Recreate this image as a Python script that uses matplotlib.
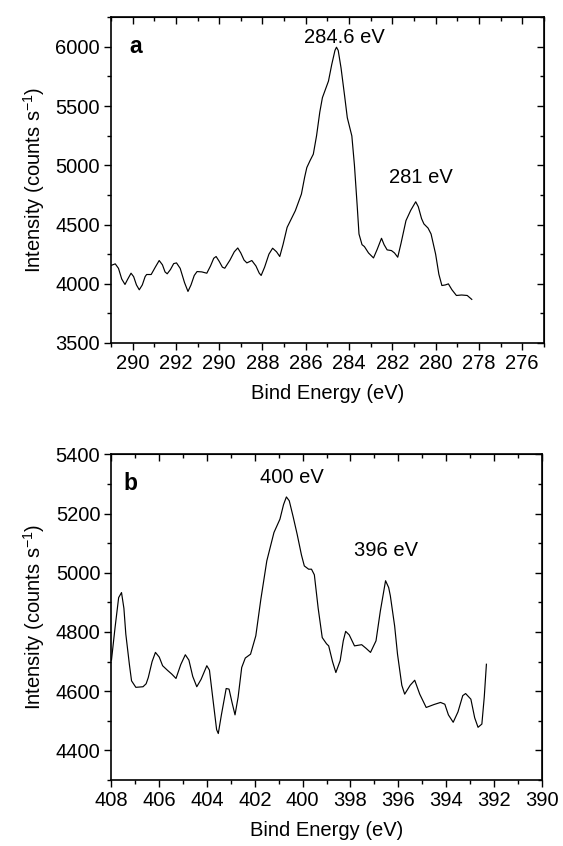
import matplotlib
matplotlib.use("Agg")
import matplotlib.pyplot as plt
from matplotlib.ticker import MultipleLocator, FixedLocator

plt.rcParams['font.family'] = ['Liberation Sans', 'DejaVu Sans']
plt.rcParams['mathtext.fontset'] = 'custom'
plt.rcParams['mathtext.rm'] = 'Liberation Sans'
plt.rcParams['mathtext.it'] = 'Liberation Sans:italic'

# panel a: C 1s
energy_a = [295.0, 294.8, 294.65, 294.5, 294.35, 294.22, 294.07, 293.95, 293.82, 293.69,
            293.55, 293.42, 293.35, 293.14, 292.95, 292.77, 292.62, 292.5, 292.4, 292.25,
            292.1, 291.97, 291.8, 291.6, 291.44, 291.3, 291.15, 291.02, 290.8, 290.57,
            290.4, 290.25, 290.14, 290.0, 289.85, 289.74, 289.5, 289.3, 289.14, 289.0,
            288.85, 288.72, 288.49, 288.3, 288.15, 288.06, 287.9, 287.7, 287.53, 287.35,
            287.2, 287.05, 286.86, 286.48, 286.2, 286.05, 285.95, 285.8, 285.65, 285.5,
            285.35, 285.23, 284.95, 284.8, 284.65, 284.58, 284.5, 284.37, 284.2, 284.08,
            283.87, 283.75, 283.62, 283.54, 283.4, 283.29, 283.1, 282.87, 282.7, 282.5,
            282.38, 282.24, 282.04, 281.9, 281.75, 281.6, 281.37, 281.15, 280.92, 280.8,
            280.65, 280.54, 280.35, 280.21, 280.0, 279.85, 279.71, 279.55, 279.41, 279.25,
            279.04, 278.8, 278.54, 278.33]
counts_a = [4154, 4168, 4130, 4040, 3994, 4040, 4089, 4060, 3990, 3949,
            3990, 4060, 4078, 4078, 4140, 4196, 4160, 4100, 4084, 4120,
            4170, 4176, 4130, 4010, 3935, 3990, 4070, 4103, 4100, 4089,
            4150, 4215, 4230, 4190, 4140, 4131, 4200, 4270, 4302, 4260,
            4200, 4176, 4196, 4150, 4090, 4070, 4140, 4250, 4300, 4270,
            4230, 4330, 4476, 4617, 4757, 4900, 4981, 5040, 5094, 5250,
            5450, 5571, 5711, 5850, 5970, 5997, 5970, 5823, 5580, 5402,
            5248, 5000, 4650, 4420, 4330, 4314, 4260, 4218, 4290, 4384,
            4330, 4286, 4280, 4260, 4224, 4340, 4533, 4620, 4692, 4650,
            4550, 4505, 4470, 4420, 4250, 4080, 3985, 3990, 3999, 3950,
            3901, 3905, 3901, 3868]
ticks_a = [294, 292, 290, 288, 286, 284, 282, 280, 278, 276]
ticklabels_a = ["290", "292", "290", "288", "286", "284", "282", "280", "278", "276"]

# panel b: N 1s
energy_b = [408.0, 407.85, 407.7, 407.58, 407.48, 407.4, 407.25, 407.16, 406.98, 406.68,
            406.55, 406.46, 406.3, 406.16, 406.0, 405.86, 405.65, 405.48, 405.3, 405.1,
            404.91, 404.76, 404.6, 404.43, 404.25, 404.01, 403.9, 403.75, 403.6, 403.53,
            403.4, 403.2, 403.08, 402.95, 402.83, 402.7, 402.55, 402.4, 402.18, 401.96,
            401.75, 401.5, 401.2, 400.95, 400.8, 400.68, 400.56, 400.4, 400.23, 400.05,
            399.93, 399.75, 399.63, 399.51, 399.35, 399.18, 399.0, 398.91, 398.75, 398.61,
            398.43, 398.3, 398.2, 398.05, 397.83, 397.53, 397.35, 397.16, 396.93, 396.75,
            396.53, 396.4, 396.33, 396.15, 396.03, 395.85, 395.73, 395.5, 395.31, 395.1,
            394.83, 394.5, 394.23, 394.05, 393.9, 393.7, 393.5, 393.3, 393.18, 392.96,
            392.8, 392.66, 392.5, 392.4, 392.31]
counts_b = [4705, 4815, 4916, 4933, 4880, 4793, 4690, 4635, 4613, 4615,
            4625, 4646, 4700, 4731, 4715, 4686, 4670, 4658, 4643, 4690,
            4723, 4705, 4650, 4615, 4640, 4686, 4671, 4570, 4470, 4457,
            4520, 4609, 4607, 4560, 4520, 4580, 4680, 4712, 4725, 4787,
            4910, 5040, 5136, 5181, 5230, 5256, 5243, 5190, 5130, 5060,
            5023, 5012, 5012, 4993, 4880, 4781, 4760, 4753, 4700, 4663,
            4703, 4770, 4802, 4790, 4753, 4757, 4745, 4731, 4770, 4870,
            4973, 4950, 4922, 4820, 4725, 4620, 4590, 4620, 4637, 4590,
            4545, 4555, 4562, 4556, 4520, 4495, 4530, 4585, 4592, 4573,
            4510, 4478, 4489, 4580, 4691]

FS = 14.5


def style_axes(ax, ymin, ymax, ymajor, yminor):
    ax.set_ylim(ymin, ymax)
    ax.xaxis.set_minor_locator(MultipleLocator(1))
    ax.yaxis.set_major_locator(MultipleLocator(ymajor))
    ax.yaxis.set_minor_locator(MultipleLocator(yminor))
    ax.tick_params(which='both', direction='out', top=False, right=False,
                   labelsize=FS, width=1.0, pad=3)
    ax.tick_params(which='major', length=5)
    ax.tick_params(which='minor', length=3)
    for s in ax.spines.values():
        s.set_linewidth(1.2)
    # inward ticks on top and right
    tw = ax.secondary_xaxis('top')
    tw.set_xticks(ax.get_xticks())
    tw.xaxis.set_minor_locator(MultipleLocator(1))
    tw.tick_params(which='both', direction='in', labeltop=False, width=1.0)
    tw.tick_params(which='major', length=5)
    tw.tick_params(which='minor', length=3)
    rw = ax.secondary_yaxis('right')
    rw.yaxis.set_major_locator(MultipleLocator(ymajor))
    rw.yaxis.set_minor_locator(MultipleLocator(yminor))
    rw.tick_params(which='both', direction='in', labelright=False, width=1.0)
    rw.tick_params(which='major', length=5)
    rw.tick_params(which='minor', length=3)
    ax.set_xlabel('Bind Energy (eV)', fontsize=FS, labelpad=8)
    ax.set_ylabel(r'Intensity (counts s$^{-1}$)', fontsize=FS, labelpad=6)


fig = plt.figure(figsize=(5.63, 8.46), dpi=100)

ax1 = fig.add_axes([0.197, 0.5946, 0.769, 0.385])
ax1.plot(energy_a, counts_a, color='black', lw=0.85)
ax1.set_xlim(295, 275)
ax1.xaxis.set_major_locator(FixedLocator(ticks_a))
ax1.set_xticklabels(ticklabels_a)
style_axes(ax1, 3500, 6250, 500, 250)
ax1.text(293.85, 6000, 'a', fontsize=FS + 2, fontweight='bold', ha='center', va='center')
ax1.text(284.2, 6080, '284.6 eV', fontsize=FS, ha='center', va='center')
ax1.text(280.7, 4900, '281 eV', fontsize=FS, ha='center', va='center')

ax2 = fig.add_axes([0.198, 0.078, 0.764, 0.385])
ax2.plot(energy_b, counts_b, color='black', lw=0.85)
ax2.set_xlim(408, 390)
ax2.xaxis.set_major_locator(MultipleLocator(2))
style_axes(ax2, 4300, 5400, 200, 100)
ax2.text(407.2, 5300, 'b', fontsize=FS + 2, fontweight='bold', ha='center', va='center')
ax2.text(400.45, 5320, '400 eV', fontsize=FS, ha='center', va='center')
ax2.text(396.5, 5075, '396 eV', fontsize=FS, ha='center', va='center')

fig.savefig('out.png', dpi=100)
